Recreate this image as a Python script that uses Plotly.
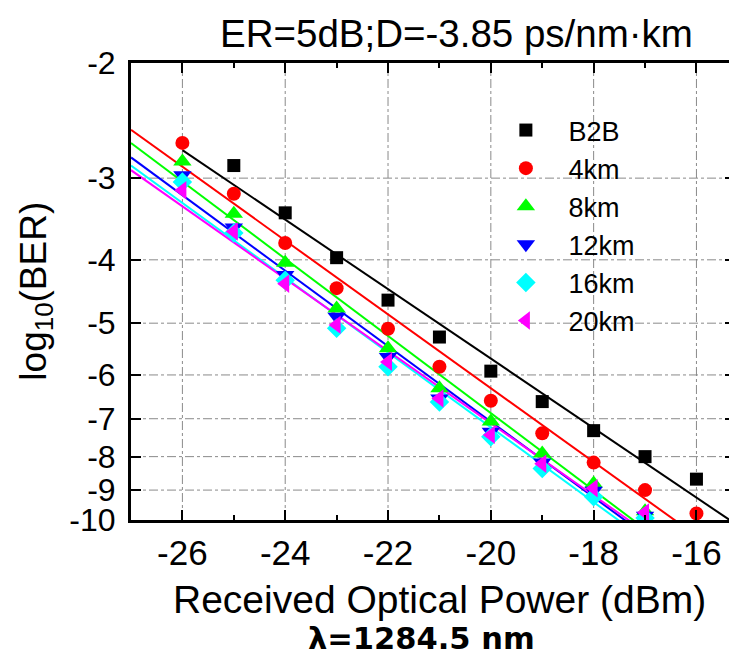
import numpy as np
import plotly.graph_objects as go

# ---- data (log10(BER) vs received optical power, dBm) ----
series_names = ["B2B", "4km", "8km", "12km", "16km", "20km"]
b2b_x = [-25, -24, -23, -22, -21, -20, -19, -18, -17, -16]
b2b_y = [-2.87, -3.39, -3.97, -4.61, -5.25, -5.92, -6.59, -7.30, -8.00, -8.66]
km4_x = [-26, -25, -24, -23, -22, -21, -20, -19, -18, -17, -16]
km4_y = [-2.65, -3.17, -3.77, -4.42, -5.10, -5.83, -6.57, -7.37, -8.17, -9.00, -9.77]
km8_x = [-26, -25, -24, -23, -22, -21, -20, -19, -18, -17]
km8_y = [-2.83, -3.40, -4.04, -4.75, -5.46, -6.29, -7.07, -7.91, -8.79, -9.70]
km12_x = [-26, -25, -24, -23, -22, -21, -20, -19, -18, -17]
km12_y = [-2.97, -3.57, -4.22, -4.89, -5.63, -6.52, -7.33, -8.17, -9.02, -9.85]
km16_x = [-26, -25, -24, -23, -22, -21, -20, -19, -18, -17]
km16_y = [-3.04, -3.64, -4.30, -5.09, -5.83, -6.60, -7.46, -8.34, -9.21, -9.93]
km20_x = [-26, -25, -24, -23, -22, -21, -20, -19, -18, -17]
km20_y = [-3.13, -3.62, -4.35, -5.03, -5.73, -6.52, -7.41, -8.20, -8.94, -9.74]

y_tick_values = [-2, -3, -4, -5, -6, -7, -8, -9, -10]
x_tick_values = [-26, -24, -22, -20, -18, -16]

# ---- styles ----
colors = ["#000000", "#ff0000", "#00ff00", "#0000ff", "#00ffff", "#ff00ff"]
symbols = ["square", "circle", "triangle-up", "triangle-down", "diamond", "triangle-left"]
marker_sizes = [13, 14, 16, 16, 15, 16]
fit_start = [-26, -27, -27, -27, -27, -27]
X_RANGE = [-27, -15.25]
FONT = "Liberation Sans"
GRID = "#8a8a8a"


def tr(v):
    """BER-plot scale: -log10(-log10(BER))."""
    return -np.log10(-np.asarray(v, dtype=float))


Y_RANGE = [float(tr(-10)), float(tr(-2))]

xs = [b2b_x, km4_x, km8_x, km12_x, km16_x, km20_x]
ys = [b2b_y, km4_y, km8_y, km12_y, km16_y, km20_y]

fig = go.Figure()

# fitted lines (linear in the transformed scale)
for name, x, y, c, x0 in zip(series_names, xs, ys, colors, fit_start):
    k, b = np.polyfit(x, tr(y), 1)
    fx = np.array([x0, X_RANGE[1]])
    fig.add_trace(go.Scatter(x=fx, y=k * fx + b, mode="lines",
                             line=dict(color=c, width=2),
                             showlegend=False, hoverinfo="skip"))

# markers
NB = "\u00a0\u00a0\u00a0"
for name, x, y, c, s, ms in zip(series_names, xs, ys, colors, symbols, marker_sizes):
    fig.add_trace(go.Scatter(x=x, y=tr(y), mode="markers", name=NB + name,
                             marker=dict(color=c, symbol=s, size=ms,
                                         line=dict(width=0))))

# page offset (browser body margin)
OFF = 8
W, H = 729, 653
L, R, T, B = 122.5, 1.5, 55, 141
pw, ph = W - L - R, H - T - B


def px(x):
    return (x - OFF - L) / pw


def py(y):
    return (H - B - (y - OFF)) / ph


# dash-dot grid lines at the tick positions
shapes = []
for v in x_tick_values:
    shapes.append(dict(type="line", xref="x", yref="paper", x0=v, x1=v, y0=0, y1=1,
                       line=dict(color=GRID, width=1, dash="dashdot"), layer="below"))
for v in y_tick_values[1:-1]:
    t = float(tr(v))
    shapes.append(dict(type="line", xref="paper", yref="y", x0=0, x1=1, y0=t, y1=t,
                       line=dict(color=GRID, width=1, dash="dashdot"), layer="below"))

fig.update_layout(
    width=W, height=H,
    margin=dict(l=L, r=R, t=T, b=B, pad=0, autoexpand=False),
    paper_bgcolor="white", plot_bgcolor="white",
    font=dict(family=FONT, color="black"),
    showlegend=True,
    shapes=shapes,
    legend=dict(x=px(506), y=py(106), xanchor="left", yanchor="top",
                bgcolor="rgba(0,0,0,0)", font=dict(size=27, family=FONT),
                itemsizing="trace", tracegroupgap=0),
    annotations=[
        dict(text="ER=5dB;D=-3.85 ps/nm\u00b7km", x=px(457), y=py(33),
             xref="paper", yref="paper", showarrow=False,
             font=dict(size=38.5, family=FONT), xanchor="center", yanchor="middle"),
        dict(text="Received Optical Power (dBm)", x=px(440), y=py(599),
             xref="paper", yref="paper", showarrow=False,
             font=dict(size=39, family=FONT), xanchor="center", yanchor="middle"),
        dict(text="<b>\u03bb=1284.5 nm</b>", x=px(421), y=py(638),
             xref="paper", yref="paper", showarrow=False,
             font=dict(size=30.5, family="DejaVu Sans"), xanchor="center", yanchor="middle"),
        dict(text="log<sub>10</sub>(BER)", x=px(35), y=py(291),
             xref="paper", yref="paper", showarrow=False, textangle=-90,
             font=dict(size=37, family=FONT), xanchor="center", yanchor="middle"),
    ],
)

fig.update_xaxes(
    range=X_RANGE, tickvals=x_tick_values,
    ticktext=[str(v) for v in x_tick_values],
    ticks="inside", ticklen=10, tickwidth=2, tickcolor="black",
    minor=dict(dtick=1, tick0=-27, ticks="inside", ticklen=5, tickwidth=2,
               tickcolor="black", showgrid=False),
    showline=True, linewidth=3, linecolor="black", mirror="ticks",
    showgrid=False,
    tickfont=dict(size=35, family=FONT), ticklabelstandoff=0,
    zeroline=False, automargin=False,
)
fig.update_yaxes(
    range=Y_RANGE, tickvals=tr(y_tick_values),
    ticktext=[str(v) for v in y_tick_values],
    ticks="inside", ticklen=10, tickwidth=2, tickcolor="black",
    showline=True, linewidth=3, linecolor="black", mirror="ticks",
    showgrid=False,
    tickfont=dict(size=32, family=FONT), ticklabelstandoff=6,
    zeroline=False, automargin=False,
)

fig.write_html("out.html")
